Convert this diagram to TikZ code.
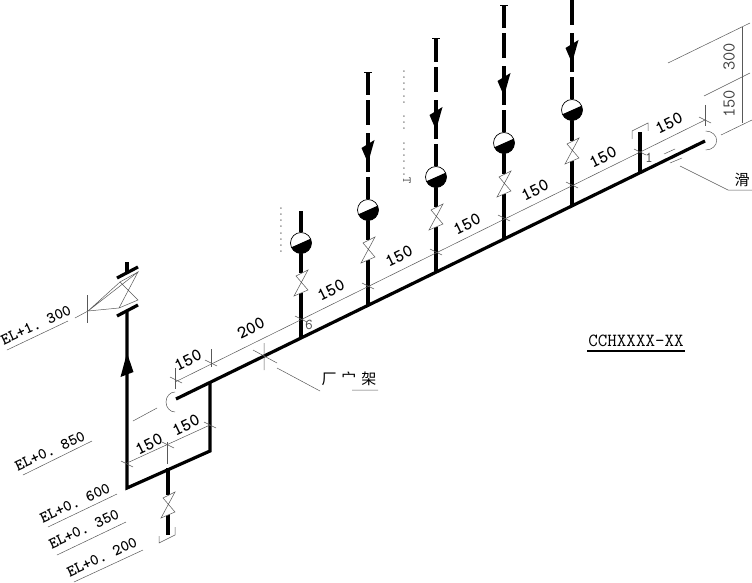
\documentclass[tikz,border=0pt]{standalone}
\usepackage{fontspec}
\newfontfamily\cjk{Noto Sans CJK SC}
\tikzset{
  pipe/.style={line width=3.2pt},
  thinline/.style={line width=0.5pt, black!65},
  valveline/.style={draw=black!65, line width=0.5pt, fill=white},
  dimtext/.style={font=\ttfamily\bfseries\fontsize{18}{18}\selectfont, rotate=26, inner sep=0pt},
  sidetext/.style={font=\ttfamily\fontsize{18}{18}\selectfont, text=black!75, rotate=90, inner sep=0pt},
  eltext/.style={font=\ttfamily\bfseries\fontsize{16}{16}\selectfont, rotate=25, inner sep=0pt},
  marktext/.style={font=\ttfamily\fontsize{15}{15}\selectfont, text=black!70, inner sep=0pt},
  faintext/.style={font=\ttfamily\fontsize{12}{12}\selectfont, text=black!75, rotate=-90, inner sep=0pt},
  gaugeball/.style={circle, draw=black, line width=0.7pt, fill=white, minimum size=21pt, inner sep=0pt},
}
\newcommand{\valvemark}[1]{
  \path[valveline] (#1)++(-5,-7) -- ++(12,-6) -- ++(-14,26) -- ++(14,-6) -- cycle;
}
\newcommand{\gaugemark}[2]{
  \node[gaugeball] (#2) at (#1) {};
  \fill (#2)++(156:10.5) arc[start angle=156, end angle=-24, radius=10.5] -- cycle;
}
\newcommand{\dimtick}[1]{
  \draw[thinline] (#1)++(-6,-3) -- ++(12,6);
}
\begin{document}
\begin{tikzpicture}[x=1pt, y=-1pt]
\useasboundingbox (0,0) rectangle (752,583);
% header
\coordinate (capa) at (176,399);
\coordinate (tee) at (210,382);
\coordinate (capb) at (705,141);
\coordinate (loopa) at (210,451);
\coordinate (loopb) at (127,488);
\coordinate (inlet) at (168,468);
\draw[pipe] (capa) -- (capb);
\draw[pipe, line join=miter] (tee) -- (loopa) -- (loopb) -- (127,312);
% inlet and flanged valve on the left
\draw[pipe] (inlet) -- (168,495) (168,513) -- (168,535);
\valvemark{168,505}
\draw[pipe] (117,316) -- (138,305) (117,278) -- (138,267);
\draw[pipe] (127,262) -- (127,273);
\fill (127,353) -- (133.5,372) -- (120.5,377) -- cycle;
\draw[thinline] (75,318) -- (88,311) -- (120,282) -- (138,300) -- (119,308) -- (88,311) -- (138,272) -- (119,308);
\draw[thinline] (120,282) -- (138,272);
\draw[thinline] (87,295) -- (87,323);
\draw[thinline] (159,536) -- (159,543) -- (175,535) -- (175,527);
% risers
\foreach \px/\py/\gy/\vy/\name in {301/338/243/283/a, 368/305/210/250/b, 436/272/177/217/c, 504/238/143/184/d, 572/205/110/151/e}{
  \coordinate (foot\name) at (\px,\py);
  \draw[pipe] (foot\name) -- (\px,\vy+10);
  \draw[pipe] (\px,\vy-10) -- (\px,\gy);
  \valvemark{\px,\vy}
  \gaugemark{\px,\gy}{ball\name}
}
\draw[pipe] (balla.north) -- (301,211);
\foreach \px/\gy/\name in {368/210/b, 436/177/c, 504/143/d, 572/110/e}{
  \draw[pipe] (ball\name.north) -- (\px,\gy-33) (\px,\gy-38) -- (\px,\gy-77) (\px,\gy-85) -- (\px,\gy-110) (\px,\gy-115) -- (\px,{max(\gy-138,0)});
  \fill (\px,\gy-47) -- (\px+6.5,\gy-70) -- (\px-6.5,\gy-62) -- cycle;
}
\foreach \px/\gy in {368/72, 436/38, 504/5}{
  \draw[line width=0.6pt] (\px-4,\gy) -- (\px+4,\gy);
}
\draw[pipe] (640,172) -- (640,132);
\draw[thinline] (632,139) -- (632,131) -- (648,123) -- (648,131);
% caps
\draw[thinline] (175,392) arc[start angle=-90, end angle=-270, x radius=9, y radius=10];
\draw[thinline] (705.7,131) arc[start angle=-90, end angle=90, x radius=11, y radius=9.5];
\draw[thinline] (133,421) -- (157,408) (670,163) -- (682,158) (664,154) -- (675,149);
% dimension lines
\draw[thinline] (175,382) -- (705,120);
\foreach \dx/\dy in {176/380, 211/363, 301/319, 368/286, 436/252, 504/218, 572/185, 640/152, 705/120}{
  \dimtick{\dx,\dy}
}
\draw[thinline] (175,368) -- (175,389) (211,349) -- (211,367) (705.7,105) -- (705.7,126);
\draw[thinline] (127,463) -- (210,425);
\foreach \dx/\dy in {127/464, 168/445, 210/425}{
  \dimtick{\dx,\dy}
}
\draw[thinline] (167,442) -- (167,464);
\draw[thinline] (742,27) -- (742,123);
\draw[thinline] (668,63) -- (750,23) (704,96) -- (750,73) (721,135) -- (752,120);
% support and leaders
\draw[thinline] (264,343) -- (264,370) (253,350) -- (277,363);
\draw[thinline] (277,368) -- (320,391) (352,390) -- (378,390);
\draw[thinline] (680,166) -- (728,190) -- (752,190);
\draw[thinline] (7,350) -- (68,321) (23,475) -- (92,441) (48,527) -- (117,494) (57,555) -- (126,522) (74,582) -- (143,550);
% labels
\foreach \lx/\ly/\ltext in {188/360/150, 251/328/200, 331/290/150, 399/256/150, 467/224/150, 535/190/150, 603/157/150, 669/123/150, 186/425/150, 149/444/150}{
  \node[dimtext] at (\lx,\ly) {\ltext};
}
\node[sidetext] at (729,57) {300};
\node[sidetext] at (729,104) {150};
\node[eltext] at (36,325) {EL+1.~300};
\node[eltext] at (50,451) {EL+0.~850};
\node[eltext] at (75,503) {EL+0.~600};
\node[eltext] at (84,529) {EL+0.~350};
\node[eltext] at (102,557) {EL+0.~200};
\node[marktext] at (309,325) {6};
\node[marktext] at (649,158) {1};
\node[faintext] at (281,230) {........};
\node[faintext] at (407,126) {...... ... ......T};
\node[font=\cjk\fontsize{15}{15}\selectfont, inner sep=0pt] at (349,379) {厂\hspace{5pt}宀\hspace{5pt}架};
\node[font=\cjk\fontsize{15}{15}\selectfont, inner sep=0pt] at (742,180) {滑};
\node[font=\ttfamily\fontsize{18.5}{18.5}\selectfont, inner sep=0pt] (code) at (636,341) {CCHXXXX-XX};
\draw[line width=1.8pt] (587,351) -- (685,351);
\end{tikzpicture}
\end{document}
